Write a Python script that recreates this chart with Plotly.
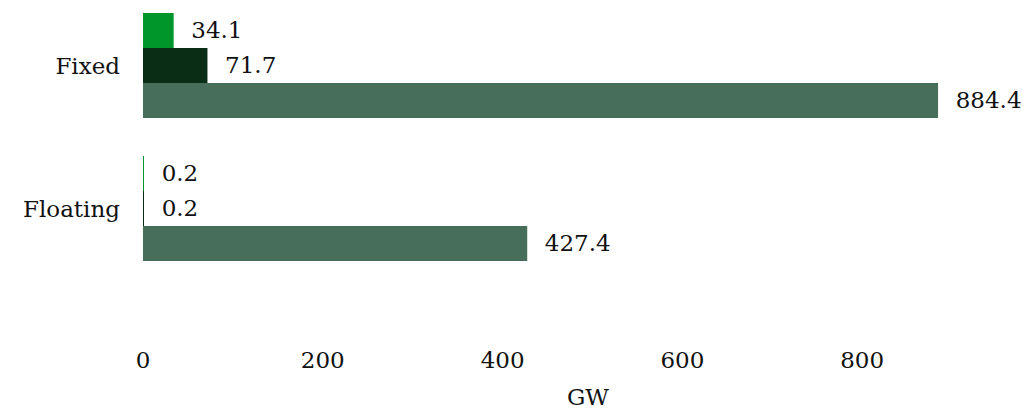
import plotly.graph_objects as go

categories = ["Floating", "Fixed"]
series_names = ["Series C", "Series B", "Series A"]
series_c = [427.4, 884.4]   # medium green (bottom bar in each group)
series_b = [0.2, 71.7]      # dark green (middle bar)
series_a = [0.2, 34.1]      # bright green (top bar)
colors = ["#466e5b", "#0a2d15", "#00962a"]
x_ticks = [0, 200, 400, 600, 800]

FONT = "DejaVu Serif"
fig = go.Figure()
for name, vals, col in zip(series_names, [series_c, series_b, series_a], colors):
    fig.add_trace(go.Bar(
        y=categories, x=vals, orientation="h", name=name,
        marker=dict(color=col, line=dict(width=0)),
        text=vals, texttemplate="\u00a0\u00a0%{x}", textposition="outside",
        textfont=dict(family=FONT, size=23, color="#111111"),
        cliponaxis=False, constraintext="none", hoverinfo="skip",
    ))

fig.update_layout(
    width=1025, height=403,
    margin=dict(l=135, r=0, t=0, b=71, autoexpand=False),
    barmode="group", bargap=0.266, bargroupgap=0,
    showlegend=False,
    plot_bgcolor="white", paper_bgcolor="white",
    font=dict(family=FONT, size=23, color="#111111"),
    xaxis=dict(range=[0, 990], tickvals=x_ticks, showgrid=False, zeroline=False,
               showline=False, ticks="", ticklabelstandoff=4, automargin=False,
               title=dict(text="GW", standoff=16, font=dict(family=FONT, size=23))),
    yaxis=dict(range=[-0.92, 1.402], showgrid=False, zeroline=False, showline=False,
               ticks="", ticklabelstandoff=22, automargin=False),
)
fig.write_html("out.html")
